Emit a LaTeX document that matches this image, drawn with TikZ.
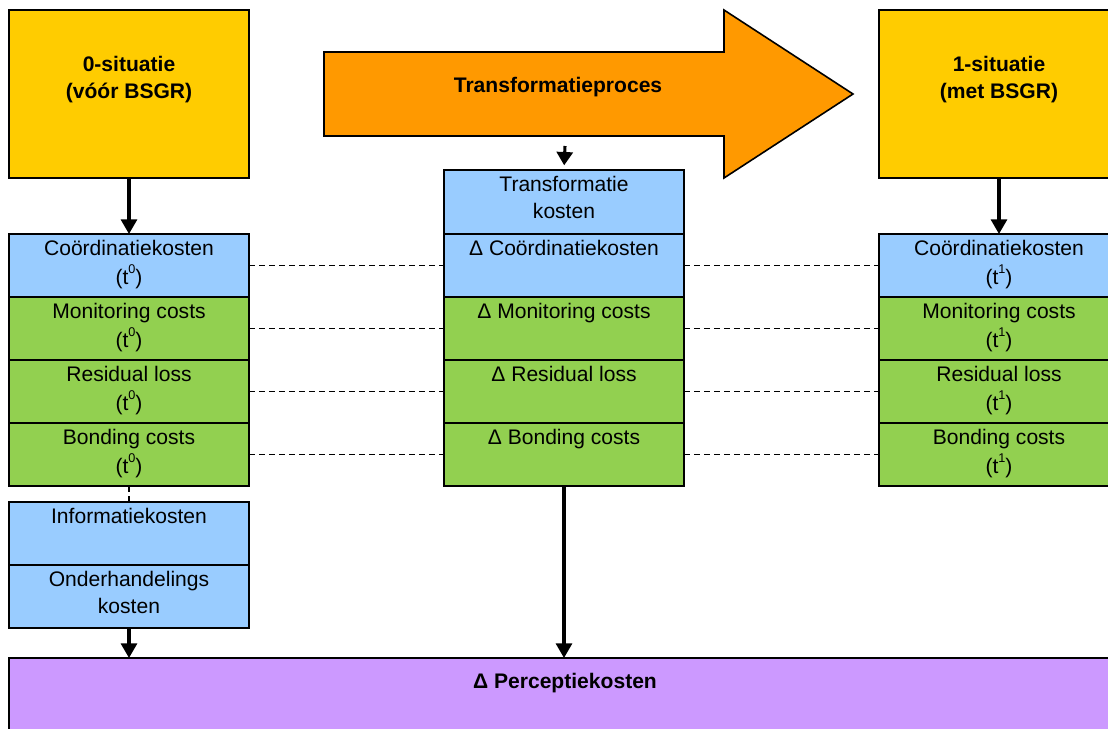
\documentclass[tikz,border=0pt]{standalone}
\usepackage{fontspec}
\setmainfont{Liberation Sans}
\usetikzlibrary{arrows.meta,calc}
\definecolor{ylw}{HTML}{FFCC00}
\definecolor{org}{HTML}{FF9900}
\definecolor{blu}{HTML}{99CCFF}
\definecolor{grn}{HTML}{92D050}
\definecolor{prp}{HTML}{CC99FF}
\newcommand\mysup[1]{\raisebox{0.52em}{\fontsize{9.5}{9.5}\selectfont #1}}
\begin{document}
\begin{tikzpicture}[x=0.75pt,y=-0.75pt,
  font=\fontsize{15.8}{20}\selectfont,
  box/.style={draw=black, line width=1.3pt, minimum width=180pt, anchor=north west, inner sep=0pt, outer sep=0pt},
  rowbox/.style={box, minimum height=47.25pt},
  bluebox/.style={rowbox, fill=blu},
  greenbox/.style={rowbox, fill=grn},
  yelbox/.style={box, fill=ylw, minimum height=126pt},
  celltext/.style={anchor=north, inner sep=0pt, align=center, yshift=-1.9pt},
  boldtext/.style={inner sep=0pt, align=center, font=\fontsize{15.8}{20}\selectfont\bfseries},
  thickarrow/.style={line width=2.3pt, -{Triangle[length=11pt,width=12pt]}},
  shortarrow/.style={line width=2.3pt, -{Triangle[length=10pt,width=12pt]}},
  dashline/.style={line width=0.9pt, dash pattern=on 4.5pt off 3pt}
]
\useasboundingbox (0,0) rectangle (1108,729);
\clip (0,0) rectangle (1108,729);

% purple box
\node[box, fill=prp, minimum width=834pt, minimum height=70pt] (perc) at (9,658) {};
\node[boldtext] (perct) at (565,683) {\strut Δ Perceptiekosten};

% yellow boxes
\node[yelbox] (zero) at (9,10) {};
\node[boldtext] (zerot) at (129,78) {\strut 0-situatie\\(vóór BSGR)};
\node[yelbox] (one) at (879,10) {};
\node[boldtext] (onet) at (999,78) {\strut 1-situatie\\(met BSGR)};

% big arrow
\draw[fill=org, line width=1.2pt, line join=miter]
  (324,52) -- (724,52) -- (724,10) -- (853,94) -- (724,178) -- (724,136) -- (324,136) -- cycle;
\node[boldtext] (proc) at (558,87) {\strut Transformatieproces};

% left column
\node[bluebox]  (l1) at (9,234) {};
\node[greenbox] (l2) at (9,297) {};
\node[greenbox] (l3) at (9,360) {};
\node[greenbox] (l4) at (9,423) {};
\node[bluebox]  (li) at (9,502) {};
\node[bluebox]  (lo) at (9,565) {};
\node[celltext] (l1t) at (l1.north) {\strut Coördinatiekosten\\(t\mysup{0})};
\node[celltext] (l2t) at (l2.north) {\strut Monitoring costs\\(t\mysup{0})};
\node[celltext] (l3t) at (l3.north) {\strut Residual loss\\(t\mysup{0})};
\node[celltext] (l4t) at (l4.north) {\strut Bonding costs\\(t\mysup{0})};
\node[celltext] (lit) at (li.north) {\strut Informatiekosten};
\node[celltext] (lot) at (lo.north) {\strut Onderhandelings\\kosten};

% middle column
\node[box, fill=blu, minimum height=48pt] (m0) at (444,170) {};
\node[bluebox]  (m1) at (444,234) {};
\node[greenbox] (m2) at (444,297) {};
\node[greenbox] (m3) at (444,360) {};
\node[greenbox] (m4) at (444,423) {};
\node[celltext] (m0t) at (m0.north) {\strut Transformatie\\kosten};
\node[celltext] (m1t) at (m1.north) {\strut Δ Coördinatiekosten};
\node[celltext] (m2t) at (m2.north) {\strut Δ Monitoring costs};
\node[celltext] (m3t) at (m3.north) {\strut Δ Residual loss};
\node[celltext] (m4t) at (m4.north) {\strut Δ Bonding costs};

% right column
\node[bluebox]  (r1) at (879,234) {};
\node[greenbox] (r2) at (879,297) {};
\node[greenbox] (r3) at (879,360) {};
\node[greenbox] (r4) at (879,423) {};
\node[celltext] (r1t) at (r1.north) {\strut Coördinatiekosten\\(t\mysup{1})};
\node[celltext] (r2t) at (r2.north) {\strut Monitoring costs\\(t\mysup{1})};
\node[celltext] (r3t) at (r3.north) {\strut Residual loss\\(t\mysup{1})};
\node[celltext] (r4t) at (r4.north) {\strut Bonding costs\\(t\mysup{1})};

% arrows
\draw[thickarrow] (zero.south) -- (l1.north);
\draw[thickarrow] (one.south) -- (r1.north);
\coordinate (pstart) at (565,146);
\draw[shortarrow, shorten >=3.5pt] (pstart) -- (m0.north);
\draw[thickarrow] (lo.south) -- (lo.south |- perc.north);
\draw[thickarrow] (m4.south) -- (m4.south |- perc.north);

% dashed links
\foreach \a/\b/\c in {l1/m1/r1, l2/m2/r2, l3/m3/r3, l4/m4/r4}{
  \draw[dashline] (\a.east) -- (\b.west);
  \draw[dashline] (\b.east) -- (\c.west);
}
\draw[dashline] (l4.south) -- (li.north);
\end{tikzpicture}
\end{document}
